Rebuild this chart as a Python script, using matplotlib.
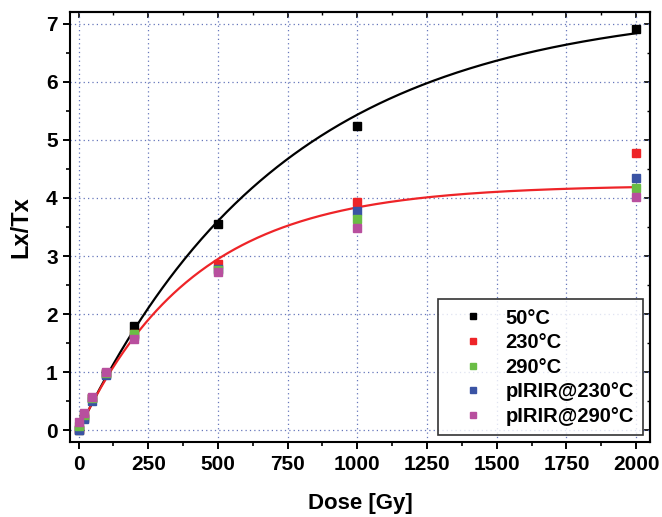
import matplotlib
matplotlib.use("Agg")
import matplotlib.pyplot as plt
import numpy as np
from matplotlib.ticker import MultipleLocator

plt.rcParams["font.family"] = ["Liberation Sans", "DejaVu Sans"]
plt.rcParams["font.weight"] = "bold"

# dose points (Gy)
dose = [0, 20, 50, 100, 200, 500, 1000, 2000]

# Lx/Tx values
lt_50 = [0.00, 0.22, 0.55, 0.97, 1.80, 3.55, 5.23, 6.91]
lt_230 = [0.02, 0.24, 0.55, 0.98, 1.65, 2.87, 3.93, 4.78]
lt_290 = [0.08, 0.26, 0.56, 0.99, 1.66, 2.76, 3.64, 4.17]
lt_pir230 = [0.00, 0.20, 0.50, 0.95, 1.62, 2.77, 3.78, 4.34]
lt_pir290 = [0.15, 0.30, 0.58, 1.01, 1.58, 2.72, 3.48, 4.02]

series_labels = ["50°C", "230°C", "290°C", "pIRIR@230°C", "pIRIR@290°C"]
series_colors = ["#000000", "#ee2428", "#6abd45", "#3a53a4", "#b84f9e"]

# saturating exponential fits: y = A * (1 - exp(-D / D0))
fit_black = (7.32, 738.0)
fit_red = (4.22, 417.0)


def sat_exp(d, a, d0):
    return a * (1.0 - np.exp(-d / d0))


fig = plt.figure(figsize=(6.62, 5.17), dpi=100)
ax = fig.add_axes([0.106, 0.145, 0.876, 0.832])

ax.grid(True, which="major", linestyle=(0, (1, 2.5)), color="#6677bb", linewidth=0.9)
ax.set_axisbelow(True)

d_fit = np.linspace(0, 2000, 400)
ax.plot(d_fit, sat_exp(d_fit, *fit_black), color="black", lw=1.6, zorder=3)
ax.plot(d_fit, sat_exp(d_fit, *fit_red), color="#ee2428", lw=1.6, zorder=3)

all_series = [lt_50, lt_230, lt_290, lt_pir230, lt_pir290]
draw_order = [0, 1, 3, 2, 4]
handles = {}
for i in draw_order:
    h, = ax.plot(dose, all_series[i], "s", ms=5.5, color=series_colors[i],
                 mec=series_colors[i], label=series_labels[i], zorder=4)
    handles[i] = h

ax.set_xlim(-30, 2050)
ax.set_ylim(-0.2, 7.2)
ax.xaxis.set_major_locator(MultipleLocator(250))
ax.xaxis.set_minor_locator(MultipleLocator(125))
ax.yaxis.set_major_locator(MultipleLocator(1))
ax.yaxis.set_minor_locator(MultipleLocator(0.5))
ax.tick_params(which="major", direction="out", length=5, width=1.4, labelsize=15, pad=4)
ax.tick_params(which="minor", direction="out", length=3, width=1.2)

for side in ["top", "right"]:
    sec = ax.secondary_xaxis("top") if side == "top" else ax.secondary_yaxis("right")
    axis = sec.xaxis if side == "top" else sec.yaxis
    axis.set_major_locator(MultipleLocator(250 if side == "top" else 1))
    axis.set_minor_locator(MultipleLocator(125 if side == "top" else 0.5))
    sec.tick_params(which="major", direction="in", length=4, width=1.2, labelsize=0)
    sec.tick_params(which="minor", direction="in", length=2.5, width=1.0)
    if side == "top":
        sec.set_xticklabels([])
    else:
        sec.set_yticklabels([])
    sec.spines[side].set_linewidth(1.5)

for s in ax.spines.values():
    s.set_linewidth(1.5)

for lab in ax.get_xticklabels() + ax.get_yticklabels():
    lab.set_fontweight("bold")

ax.set_xlabel("Dose [Gy]", fontsize=16, fontweight="bold", labelpad=14)
ax.set_ylabel("Lx/Tx", fontsize=17, fontweight="bold", labelpad=10)

leg = ax.legend([handles[i] for i in range(5)], series_labels, loc="lower right",
                bbox_to_anchor=(0.988, 0.016), fontsize=14.5, frameon=True,
                fancybox=False, edgecolor="black", handlelength=2.6,
                handletextpad=0.3, borderpad=0.45, labelspacing=0.28,
                borderaxespad=0.0, markerscale=0.9)
leg.get_frame().set_linewidth(1.2)
for t in leg.get_texts():
    t.set_fontweight("bold")

fig.savefig("out.png", dpi=100)
